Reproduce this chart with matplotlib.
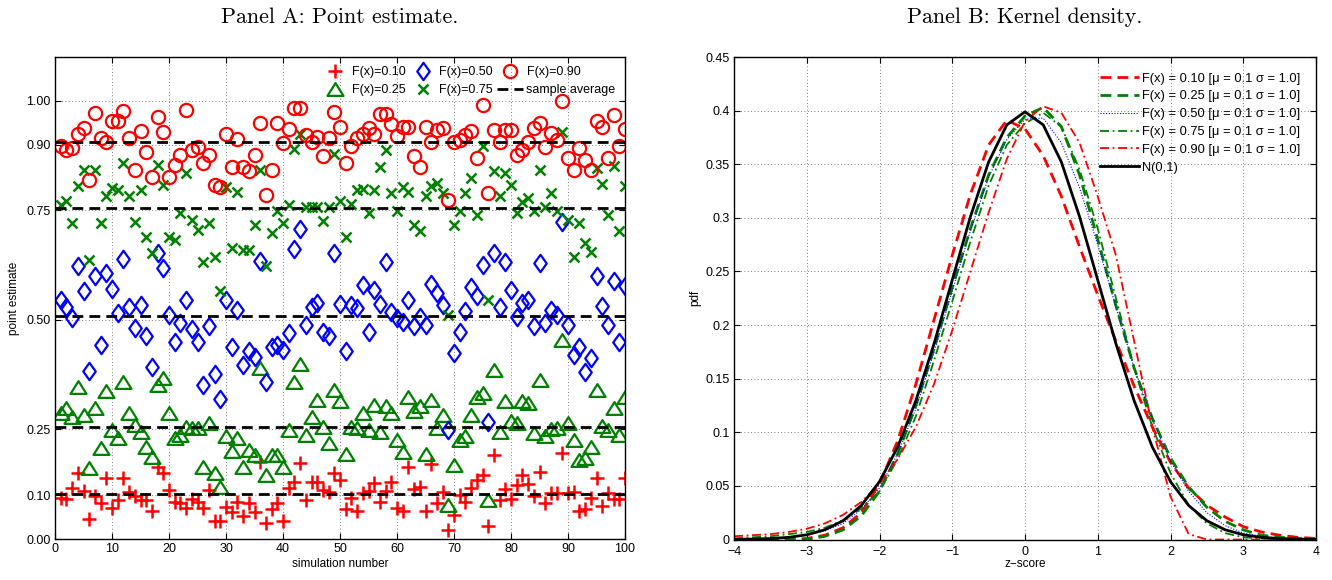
import numpy as np
import matplotlib
matplotlib.use("Agg")
import matplotlib.pyplot as plt
from matplotlib.path import Path

plt.rcParams['font.family'] = ['Liberation Sans', 'DejaVu Sans']
plt.rcParams['axes.unicode_minus'] = True

# ---------------- Panel A data ----------------
sim = list(range(1, 101))
p10 = [0.093, 0.091, 0.116, 0.150, 0.110, 0.045, 0.097, 0.082, 0.139, 0.070,
       0.089, 0.139, 0.108, 0.097, 0.089, 0.089, 0.065, 0.165, 0.150, 0.112,
       0.085, 0.083, 0.070, 0.091, 0.085, 0.070, 0.112, 0.040, 0.040, 0.073,
       0.062, 0.085, 0.052, 0.082, 0.062, 0.176, 0.036, 0.068, 0.083, 0.040,
       0.116, 0.131, 0.173, 0.089, 0.131, 0.131, 0.112, 0.108, 0.150, 0.135,
       0.068, 0.093, 0.065, 0.106, 0.110, 0.128, 0.085, 0.110, 0.131, 0.070,
       0.065, 0.165, 0.113, 0.119, 0.065, 0.171, 0.083, 0.108, 0.020, 0.055,
       0.101, 0.085, 0.116, 0.135, 0.146, 0.029, 0.192, 0.089, 0.113, 0.091,
       0.123, 0.146, 0.125, 0.097, 0.154, 0.082, 0.106, 0.106, 0.197, 0.106,
       0.108, 0.065, 0.068, 0.093, 0.139, 0.075, 0.104, 0.091, 0.091, 0.139]
p25 = [0.287, 0.298, 0.279, 0.346, 0.283, 0.161, 0.298, 0.207, 0.337, 0.249,
       0.230, 0.359, 0.287, 0.260, 0.245, 0.211, 0.188, 0.352, 0.367, 0.287,
       0.230, 0.237, 0.256, 0.253, 0.253, 0.165, 0.264, 0.150, 0.119, 0.234,
       0.200, 0.230, 0.165, 0.203, 0.192, 0.390, 0.146, 0.192, 0.192, 0.165,
       0.249, 0.359, 0.399, 0.237, 0.279, 0.317, 0.256, 0.218, 0.340, 0.314,
       0.195, 0.256, 0.253, 0.287, 0.249, 0.306, 0.245, 0.304, 0.287, 0.226,
       0.199, 0.325, 0.291, 0.304, 0.195, 0.317, 0.253, 0.283, 0.078, 0.169,
       0.226, 0.234, 0.283, 0.325, 0.333, 0.089, 0.386, 0.245, 0.314, 0.270,
       0.264, 0.314, 0.311, 0.243, 0.363, 0.234, 0.250, 0.253, 0.454, 0.264,
       0.226, 0.180, 0.184, 0.211, 0.340, 0.257, 0.249, 0.300, 0.237, 0.325]
p50 = [0.545, 0.529, 0.504, 0.622, 0.565, 0.384, 0.600, 0.443, 0.606, 0.570,
       0.515, 0.638, 0.530, 0.481, 0.535, 0.463, 0.393, 0.653, 0.618, 0.511,
       0.450, 0.494, 0.545, 0.479, 0.450, 0.352, 0.486, 0.377, 0.319, 0.545,
       0.438, 0.523, 0.397, 0.428, 0.416, 0.634, 0.359, 0.439, 0.443, 0.431,
       0.469, 0.661, 0.707, 0.488, 0.530, 0.538, 0.472, 0.464, 0.652, 0.537,
       0.428, 0.534, 0.527, 0.580, 0.473, 0.568, 0.537, 0.633, 0.519, 0.504,
       0.496, 0.545, 0.485, 0.507, 0.488, 0.582, 0.561, 0.534, 0.249, 0.424,
       0.473, 0.520, 0.576, 0.555, 0.625, 0.268, 0.652, 0.530, 0.633, 0.568,
       0.507, 0.538, 0.545, 0.485, 0.629, 0.493, 0.523, 0.511, 0.724, 0.488,
       0.420, 0.439, 0.380, 0.412, 0.600, 0.531, 0.488, 0.589, 0.450, 0.578]
p75 = [0.763, 0.772, 0.722, 0.806, 0.841, 0.637, 0.841, 0.721, 0.782, 0.800,
       0.797, 0.859, 0.782, 0.724, 0.797, 0.690, 0.652, 0.854, 0.808, 0.690,
       0.683, 0.744, 0.836, 0.728, 0.705, 0.633, 0.721, 0.644, 0.567, 0.804,
       0.664, 0.793, 0.659, 0.659, 0.717, 0.843, 0.624, 0.698, 0.749, 0.722,
       0.763, 0.890, 0.925, 0.758, 0.758, 0.758, 0.726, 0.758, 0.879, 0.772,
       0.690, 0.765, 0.797, 0.798, 0.744, 0.797, 0.850, 0.888, 0.789, 0.748,
       0.804, 0.793, 0.717, 0.702, 0.782, 0.806, 0.813, 0.789, 0.511, 0.717,
       0.748, 0.789, 0.823, 0.740, 0.896, 0.546, 0.839, 0.782, 0.836, 0.808,
       0.744, 0.770, 0.778, 0.748, 0.843, 0.758, 0.789, 0.748, 0.929, 0.729,
       0.644, 0.721, 0.675, 0.654, 0.846, 0.811, 0.740, 0.852, 0.702, 0.806]
p90 = [0.897, 0.887, 0.892, 0.925, 0.937, 0.820, 0.972, 0.915, 0.907, 0.953,
       0.953, 0.977, 0.915, 0.842, 0.932, 0.884, 0.827, 0.963, 0.928, 0.827,
       0.854, 0.877, 0.979, 0.888, 0.894, 0.857, 0.877, 0.808, 0.804, 0.925,
       0.848, 0.913, 0.848, 0.840, 0.877, 0.949, 0.785, 0.842, 0.949, 0.903,
       0.935, 0.983, 0.983, 0.922, 0.907, 0.918, 0.873, 0.915, 0.975, 0.941,
       0.858, 0.897, 0.915, 0.925, 0.937, 0.925, 0.971, 0.971, 0.946, 0.920,
       0.941, 0.941, 0.873, 0.850, 0.941, 0.905, 0.934, 0.937, 0.774, 0.907,
       0.911, 0.922, 0.930, 0.869, 0.991, 0.789, 0.934, 0.907, 0.934, 0.934,
       0.877, 0.888, 0.907, 0.937, 0.949, 0.894, 0.926, 0.911, 0.999, 0.869,
       0.842, 0.892, 0.866, 0.842, 0.955, 0.941, 0.869, 0.968, 0.897, 0.935]
sample_avg = [0.102, 0.256, 0.508, 0.756, 0.905]
a_yticks = [0.00, 0.10, 0.25, 0.50, 0.75, 0.90, 1.00]
a_xticks = [0, 10, 20, 30, 40, 50, 60, 70, 80, 90, 100]
a_labels = ['F(x)=0.10', 'F(x)=0.25', 'F(x)=0.50', 'F(x)=0.75', 'F(x)=0.90']

# ---------------- Panel B data ----------------
z = [-4.0, -3.75, -3.5, -3.25, -3.0, -2.75, -2.5, -2.25, -2.0, -1.75, -1.5,
     -1.25, -1.0, -0.75, -0.5, -0.25, 0.0, 0.25, 0.5, 0.75, 1.0, 1.25, 1.5,
     1.75, 2.0, 2.25, 2.5, 2.75, 3.0, 3.25, 3.5, 3.75, 4.0]
kd10 = [0.000, 0.000, 0.000, 0.000, 0.001, 0.004, 0.011, 0.025, 0.052, 0.092, 0.145,
        0.205, 0.265, 0.322, 0.368, 0.391, 0.383, 0.358, 0.320, 0.273, 0.228, 0.185, 0.143,
        0.105, 0.072, 0.048, 0.032, 0.021, 0.012, 0.007, 0.004, 0.002, 0.001]
kd25 = [0.000, 0.000, 0.000, 0.000, 0.000, 0.003, 0.009, 0.022, 0.045, 0.080, 0.125,
        0.178, 0.235, 0.290, 0.340, 0.375, 0.395, 0.403, 0.385, 0.340, 0.280, 0.218, 0.160,
        0.113, 0.076, 0.049, 0.030, 0.017, 0.009, 0.004, 0.002, 0.001, 0.000]
kd50 = [0.000, 0.000, 0.001, 0.002, 0.004, 0.008, 0.015, 0.028, 0.048, 0.080, 0.122,
        0.175, 0.232, 0.288, 0.338, 0.373, 0.392, 0.393, 0.370, 0.328, 0.275, 0.217, 0.160,
        0.112, 0.073, 0.045, 0.025, 0.013, 0.006, 0.003, 0.001, 0.000, 0.000]
kd75 = [0.001, 0.002, 0.003, 0.005, 0.007, 0.011, 0.018, 0.029, 0.045, 0.075, 0.115,
        0.167, 0.222, 0.278, 0.330, 0.368, 0.388, 0.398, 0.385, 0.345, 0.290, 0.225, 0.160,
        0.105, 0.062, 0.032, 0.015, 0.006, 0.002, 0.001, 0.000, 0.000, 0.000]
kd90 = [0.003, 0.004, 0.005, 0.007, 0.010, 0.015, 0.023, 0.035, 0.052, 0.075, 0.105,
        0.145, 0.195, 0.250, 0.305, 0.355, 0.390, 0.404, 0.398, 0.370, 0.320, 0.265, 0.185,
        0.105, 0.040, 0.005, 0.000, 0.000, 0.000, 0.000, 0.000, 0.000, 0.000]
norm01 = [0.0001, 0.0004, 0.0009, 0.0020, 0.0044, 0.0091, 0.0175, 0.0317, 0.0540, 0.0863, 0.1295,
          0.1826, 0.2420, 0.3011, 0.3521, 0.3867, 0.3989, 0.3867, 0.3521, 0.3011, 0.2420, 0.1826, 0.1295,
          0.0863, 0.0540, 0.0317, 0.0175, 0.0091, 0.0044, 0.0020, 0.0009, 0.0004, 0.0001]
b_labels = ['F(x) = 0.10 [\u03bc = 0.1 \u03c3 = 1.0]', 'F(x) = 0.25 [\u03bc = 0.1 \u03c3 = 1.0]',
            'F(x) = 0.50 [\u03bc = 0.1 \u03c3 = 1.0]', 'F(x) = 0.75 [\u03bc = 0.1 \u03c3 = 1.0]',
            'F(x) = 0.90 [\u03bc = 0.1 \u03c3 = 1.0]', 'N(0,1)']
b_xticks = [-4, -3, -2, -1, 0, 1, 2, 3, 4]
b_yticks = [0, 0.05, 0.1, 0.15, 0.2, 0.25, 0.3, 0.35, 0.4, 0.45]

RED = '#ff0000'
GREEN = '#008000'
BLUE = '#0000ff'

W, H = 1332, 580
fig = plt.figure(figsize=(W / 100, H / 100), dpi=100)
axA = fig.add_axes([55 / W, 1 - 539 / H, 570 / W, 482 / H])
axB = fig.add_axes([734 / W, 1 - 539.5 / H, 582 / W, 482.5 / H])

diamond = Path([(0, 1), (0.72, 0), (0, -1), (-0.72, 0), (0, 1)],
               [Path.MOVETO, Path.LINETO, Path.LINETO, Path.LINETO, Path.CLOSEPOLY])
triangle = Path([(0, 0.8), (1, -0.8), (-1, -0.8), (0, 0.8)],
                [Path.MOVETO, Path.LINETO, Path.LINETO, Path.CLOSEPOLY])

def style(ax):
    ax.tick_params(direction='in', top=True, right=True, length=4, width=0.8,
                   labelsize=9, pad=3, colors='black')
    ax.grid(True, linestyle=(0, (1, 3)), color='#555555', linewidth=0.6)
    ax.set_axisbelow(True)
    for s in ax.spines.values():
        s.set_linewidth(1.0)

# Panel A
style(axA)
h1, = axA.plot(sim, p10, ls='none', marker='+', ms=10, mew=1.8, color=RED, label=a_labels[0])
h2, = axA.plot(sim, p25, ls='none', marker=triangle, ms=11.5, mew=1.6, mfc='none', mec=GREEN, label=a_labels[1])
h3, = axA.plot(sim, p50, ls='none', marker=diamond, ms=12.5, mew=1.6, mfc='none', mec=BLUE, label=a_labels[2])
h4, = axA.plot(sim, p75, ls='none', marker='x', ms=7.5, mew=1.8, color=GREEN, label=a_labels[3])
h5, = axA.plot(sim, p90, ls='none', marker='o', ms=9.5, mew=1.6, mfc='none', mec=RED, label=a_labels[4])
hav = None
for v in sample_avg:
    hav, = axA.plot([0, 100], [v, v], color='black', lw=2.0, dashes=(3.9, 2.2), zorder=5,
                    label='sample average')
axA.set_xlim(0, 100)
axA.set_ylim(0, 1.1)
axA.set_xticks(a_xticks)
axA.set_yticks(a_yticks)
axA.set_yticklabels(['%.2f' % v for v in a_yticks])
axA.set_xlabel('simulation number', fontsize=8.5, labelpad=2)
axA.set_ylabel('point estimate', fontsize=8.5, labelpad=5)
axA.legend(handles=[h1, h2, h3, h4, h5, hav], ncol=3, loc='upper right', frameon=False,
           fontsize=9, handletextpad=0.25, columnspacing=0.3, labelspacing=0.45,
           handlelength=2.15, borderaxespad=0.45, borderpad=0.3)

# Panel B
style(axB)
axB.tick_params(axis='x', pad=5)
lb10, = axB.plot(z, kd10, color=RED, lw=2.0, dashes=(3.9, 2.2), label=b_labels[0])
lb25, = axB.plot(z, kd25, color=GREEN, lw=2.0, dashes=(3.9, 2.2), label=b_labels[1])
lb50, = axB.plot(z, kd50, color=BLUE, lw=0.8, ls=(0, (1, 1.5)), label=b_labels[2])
lb75, = axB.plot(z, kd75, color=GREEN, lw=1.3, ls=(0, (5, 2, 1, 2)), label=b_labels[3])
lb90, = axB.plot(z, kd90, color=RED, lw=1.3, ls=(0, (5, 2, 1, 2)), label=b_labels[4])
lbn, = axB.plot(z, norm01, color='black', lw=2.0, label=b_labels[5])
axB.set_xlim(-4, 4)
axB.set_ylim(0, 0.45)
axB.set_xticks(b_xticks)
axB.set_xticklabels([('\u2212%d' % -t) if t < 0 else '%d' % t for t in b_xticks])
axB.set_yticks(b_yticks)
axB.set_yticklabels(['0', '0.05', '0.1', '0.15', '0.2', '0.25', '0.3', '0.35', '0.4', '0.45'])
axB.set_xlabel('z\u2212score', fontsize=8.5, labelpad=0)
axB.set_ylabel('pdf', fontsize=8.5, labelpad=3)
axB.legend(loc='upper right', frameon=False, fontsize=9.3, handlelength=3.0,
           handletextpad=0.25, labelspacing=0.45, borderaxespad=0.8, borderpad=0.4)

fig.text((55 + 625) / 2 / W, 1 - 17 / H, 'Panel A: Point estimate.', ha='center', va='center',
         fontsize=15.8, family='cmr10')
fig.text((734 + 1316) / 2 / W, 1 - 17 / H, 'Panel B: Kernel density.', ha='center', va='center',
         fontsize=15.8, family='cmr10')

fig.savefig('out.png', dpi=100)
